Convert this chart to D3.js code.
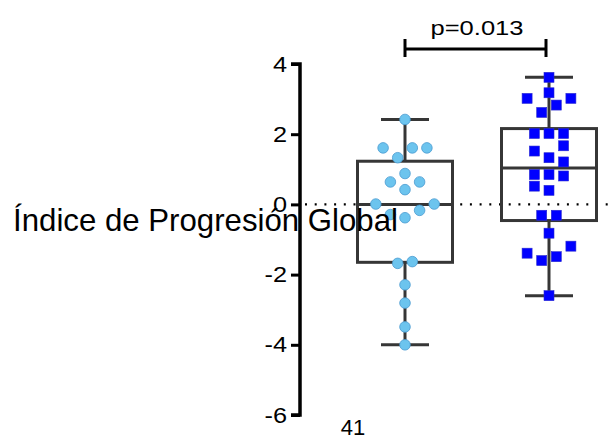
<!DOCTYPE html>
<head>
<meta charset="utf-8">
<style>
    body { margin: 0; background: #fff; }
    text { font-family: "Liberation Sans", Arial, sans-serif; fill: #000; }
</style>
</head>
<body>
<script src="https://d3js.org/d3.v7.min.js"></script>
<script>

// ---------- data ----------
const groups = ['A', 'B'];
const groupA = [2.42, 1.61, 1.61, 1.61, 1.33, 0.88, 0.64, 0.64, 0.42, 0.01, 0.01,
    -0.17, -0.29, -0.38, -1.63, -1.68, -2.29, -2.81, -3.49, -4.0];
const groupB = [3.62, 3.18, 3.02, 3.02, 2.83, 2.62, 2.02, 2.02, 2.02, 1.67, 1.52, 1.33,
    1.21, 0.85, 0.85, 0.81, 0.52, 0.40, -0.31, -0.31, -0.82, -1.19, -1.39, -1.49, -1.60, -2.60];
// box stats: min, q1, median, q3, max
const boxA = [-4.0, -1.65, 0.0, 1.23, 2.42];
const boxB = [-2.60, -0.46, 1.04, 2.16, 3.62];
const yTicks = [4, 2, 0, -2, -4, -6];
const yTitle = 'Índice de Progresión Global';
const xLabel = '41';
const pLabel = 'p=0.013';

// ---------- setup ----------
const W = 608, H = 436;
const svg = d3.select('body').append('svg').attr('width', W).attr('height', H);

const y = d3.scaleLinear().domain([-6, 4]).range([415, 64]);
const x = d3.scalePoint().domain(groups).range([405, 549]);
const boxW = 95, capW = 48, dotStep = 14.6;

// zero reference line
svg.append('line')
    .attr('x1', 305).attr('x2', W)
    .attr('y1', y(0)).attr('y2', y(0))
    .attr('stroke', '#000').attr('stroke-width', 2.2)
    .attr('stroke-dasharray', '2,7.7');

// y axis
const axis = svg.append('g').attr('transform', 'translate(300,0)')
    .call(d3.axisLeft(y).tickValues(yTicks).tickSize(9).tickPadding(4).tickFormat(d => String(d)));
axis.select('.domain').attr('stroke-width', 3.5).attr('d', 'M-9,' + y(4) + 'H0V' + y(-6) + 'H-9');
axis.selectAll('.tick line').attr('stroke-width', 3);
axis.selectAll('.tick text').attr('font-size', 22)
    .style('font-family', '"Liberation Sans", Arial, sans-serif')
    .each(function () {
        // the reference digits are a little wider than Liberation Sans
        d3.select(this).attr('textLength', this.getComputedTextLength() * 1.15)
            .attr('lengthAdjust', 'spacingAndGlyphs');
    });

// ---------- boxes ----------
const stats = [{ g: 'A', s: boxA }, { g: 'B', s: boxB }];
const boxes = svg.selectAll('g.box').data(stats).enter().append('g').attr('class', 'box')
    .attr('stroke', '#363636').attr('stroke-width', 3).attr('fill', 'none');
boxes.append('line')
    .attr('x1', d => x(d.g)).attr('x2', d => x(d.g))
    .attr('y1', d => y(d.s[4])).attr('y2', d => y(d.s[3]));
boxes.append('line')
    .attr('x1', d => x(d.g)).attr('x2', d => x(d.g))
    .attr('y1', d => y(d.s[1])).attr('y2', d => y(d.s[0]));
boxes.selectAll('line.cap').data(d => [[d.g, d.s[0]], [d.g, d.s[4]]]).enter().append('line')
    .attr('x1', d => x(d[0]) - capW / 2).attr('x2', d => x(d[0]) + capW / 2)
    .attr('y1', d => y(d[1])).attr('y2', d => y(d[1]));
boxes.append('rect')
    .attr('x', d => x(d.g) - boxW / 2).attr('width', boxW)
    .attr('y', d => y(d.s[3])).attr('height', d => y(d.s[1]) - y(d.s[3]));
boxes.append('line')
    .attr('x1', d => x(d.g) - boxW / 2).attr('x2', d => x(d.g) + boxW / 2)
    .attr('y1', d => y(d.s[2])).attr('y2', d => y(d.s[2]));

// ---------- scatter (rows built bottom-up, centred) ----------
function swarm(vals) {
    const sorted = vals.slice().sort((a, b) => a - b);
    const rows = [];
    let row = [];
    sorted.forEach(v => {
        if (row.length && y(row[0]) - y(v) > 15) { rows.push(row); row = []; }
        row.push(v);
    });
    if (row.length) rows.push(row);
    const out = [];
    rows.forEach(r => {
        const desc = r.slice().sort((a, b) => b - a);
        const n = desc.length;
        const slots = d3.range(n).map(i => (i - (n - 1) / 2) * dotStep);
        let lo = 0, hi = n - 1, k = 0;
        while (lo <= hi) {
            if (lo === hi) { out.push({ v: desc[k++], dx: slots[lo] }); break; }
            out.push({ v: desc[k++], dx: slots[hi] });
            out.push({ v: desc[k++], dx: slots[lo] });
            lo++; hi--;
        }
    });
    return out;
}

svg.append('g').selectAll('circle').data(swarm(groupA)).enter().append('circle')
    .attr('cx', d => x('A') + d.dx).attr('cy', d => y(d.v)).attr('r', 5.3)
    .attr('fill', '#6cc4ee').attr('stroke', '#4a9ad0').attr('stroke-width', 0.8);

svg.append('g').selectAll('rect').data(swarm(groupB)).enter().append('rect')
    .attr('x', d => x('B') + d.dx - 5).attr('y', d => y(d.v) - 5)
    .attr('width', 10).attr('height', 10)
    .attr('fill', '#0000ff').attr('stroke', '#2a2ad0').attr('stroke-width', 0.6);

// ---------- significance bracket ----------
const br = svg.append('g').attr('stroke', '#000').attr('stroke-width', 3);
br.append('line').attr('x1', x('A')).attr('x2', x('B') - 3).attr('y1', 49).attr('y2', 49);
br.append('line').attr('x1', x('A')).attr('x2', x('A')).attr('y1', 39).attr('y2', 57);
br.append('line').attr('x1', x('B') - 3).attr('x2', x('B') - 3).attr('y1', 39).attr('y2', 57);
svg.append('text').attr('x', (x('A') + x('B')) / 2).attr('y', 35)
    .attr('text-anchor', 'middle').attr('font-size', 21)
    .attr('textLength', 93).attr('lengthAdjust', 'spacingAndGlyphs').text(pLabel);

// ---------- labels ----------
svg.append('text').attr('x', 205.5).attr('y', 231)
    .attr('text-anchor', 'middle').attr('font-size', 31.2).text(yTitle);
svg.append('text').attr('x', 353).attr('y', 434.5)
    .attr('text-anchor', 'middle').attr('font-size', 22).text(xLabel);

</script>
</body>
